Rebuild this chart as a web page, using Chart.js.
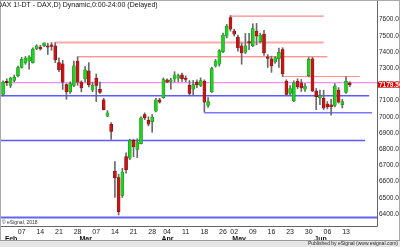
<!DOCTYPE html>
<html>
<head>
<meta charset="utf-8">
<script src="https://cdn.jsdelivr.net/npm/chart.js@4.4.1/dist/chart.umd.min.js"></script>
<style>
  html, body { margin: 0; padding: 0; background: #fff; }
  #contenedor { width: 400px; height: 247px; }
</style>
</head>
<body>
<div id="contenedor"><canvas id="grafico" width="400" height="247"></canvas></div>
<script>
// Fechas de cada vela (2018, mes-dia)
const fechas = ['01-31',
  '02-01','02-02','02-05','02-06','02-07','02-08','02-09','02-12','02-13','02-14','02-15','02-16','02-19','02-20','02-21','02-22','02-23','02-26','02-27','02-28',
  '03-01','03-02','03-05','03-06','03-07','03-08','03-09','03-12','03-13','03-14','03-15','03-16','03-19','03-20','03-21','03-22','03-23','03-26','03-27','03-28','03-29','03-30',
  '04-03','04-04','04-05','04-06','04-09','04-10','04-11','04-12','04-13','04-16','04-17','04-18','04-19','04-20','04-23','04-24','04-26','04-27','04-30',
  '05-02','05-03','05-04','05-07','05-08','05-09','05-10','05-11','05-14','05-15','05-16','05-17','05-18','05-21','05-22','05-23','05-24','05-25','05-28','05-29','05-30','05-31',
  '06-01','06-04','06-05','06-06','06-07','06-08','06-11','06-12','06-13','06-14']

// Valores OHLC
const apertura = [7138,7219,7194,7224,7254,7304,7334,7344,7334,7418,7430,7438,7438,7444,7438,7334,7326,7198,7154,7194,
  7344,7214,7234,7284,7164,7238,7170,7104,7004,6954,6664,6624,6514,6754,6744,6854,6798,6834,7014,6978,
  6970,7034,7104,7118,7228,7218,7234,7238,7258,7238,7194,7170,7214,7194,7218,7070,7154,7314,7324,7402,
  7498,7612,7530,7490,7438,7398,7464,7438,7528,7464,7510,7370,7358,7338,7358,7414,7218,7144,7098,7218,
  7210,7170,7254,7358,7158,7118,7114,7078,7074,7070,7164,7074,7150,7210]
const maximo = [7222,7234,7244,7258,7312,7366,7372,7378,7426,7444,7441,7458,7454,7458,7458,7364,7348,7204,7216,7344,
  7370,7222,7310,7334,7214,7264,7214,7114,7038,6964,6724,6646,6682,6778,6862,6862,6864,7000,7024,7000,
  7014,7114,7114,7240,7234,7238,7278,7264,7270,7252,7224,7224,7228,7240,7228,7118,7306,7354,7414,7516,
  7570,7624,7540,7504,7456,7514,7514,7574,7576,7516,7534,7384,7374,7372,7424,7426,7228,7192,7222,7234,
  7230,7204,7366,7366,7174,7164,7164,7094,7108,7204,7180,7108,7248,7216]
const minimo = [7129,7192,7180,7216,7246,7300,7324,7294,7330,7414,7411,7432,7384,7410,7334,7278,7168,7108,7144,7186,
  7194,7154,7214,7184,7154,7094,7144,7042,7000,6860,6502,6394,6502,6652,6736,6754,6748,6832,6982,6944,
  6904,7030,7084,7114,7210,7170,7214,7216,7218,7216,7130,7134,7180,7186,7028,7058,7150,7306,7312,7396,
  7486,7528,7498,7404,7324,7390,7414,7432,7444,7456,7378,7304,7274,7330,7304,7248,7130,7132,7093,7174,
  7156,7156,7246,7156,7044,7074,7044,7048,7010,7060,7084,7054,7144,7186]
const cierre = [7214,7210,7238,7244,7304,7354,7362,7370,7418,7438,7418,7454,7430,7434,7350,7290,7214,7154,7204,7314,
  7214,7178,7290,7198,7194,7194,7150,7044,7024,6910,6624,6414,6658,6674,6854,6814,6844,6994,6994,6954,
  6998,7104,7090,7230,7214,7228,7258,7254,7234,7230,7144,7198,7198,7224,7090,7094,7298,7344,7408,7504,
  7558,7540,7510,7424,7394,7438,7454,7544,7498,7504,7394,7360,7314,7364,7398,7264,7138,7174,7210,7184,
  7178,7190,7354,7158,7124,7130,7054,7062,7060,7190,7090,7094,7218,7198]

// Niveles horizontales dibujados sobre el grafico (precio, vela inicial, vela final)
const niveles = [7621, 7458, 7370, 7248, 7210, 7130, 7024, 6854, 6379]
const nivelDesde = [61, 14, 20, 75, -2, -2, 54, -2, -2]
const nivelHasta = [86, 86, 87, 95.7, 102, 98.2, 99, 97.1, 102]

// Etiquetas de los ejes
const diasEtiqueta = ['02-07','02-14','02-21','02-28','03-07','03-14','03-21','03-28','04-04','04-11','04-18','04-26','05-02','05-09','05-16','05-23','05-30','06-06','06-13']
const meses = ['Feb', 'Mar', 'Apr', 'May', 'Jun']
const inicioMes = ['02-01', '03-01', '04-03', '05-02', '06-01']
const ultimoPrecio = '7179.50'
const titulo = 'DAX 1!-DT - DAX,D) Dynamic,0:00-24:00 (Delayed)'

// estilos de cada nivel
const coloresNivel = ['#ff6a6a', 'rgba(255,110,110,0.6)', '#ff6a6a', '#ff8a8a', '#f070f0', '#5a5aff', '#7878ff', '#5a5aff', '#6464f4']
const anchosNivel = [1, 2, 1, 1, 1, 1.5, 1.5, 1.5, 2]

const verde = '#22d022'
const rojo = '#c81414'
const fuente = 'Liberation Sans'

const subida = cierre.map((c, i) => c >= apertura[i])

const mechas = fechas.map((f, i) => ({ x: i, y: [minimo[i], maximo[i]] }))
const cuerpos = fechas.map((f, i) => ({ x: i, y: [apertura[i], cierre[i]] }))

// los niveles se trazan con las escalas del grafico
const lineasNivel = {
  id: 'lineasNivel',
  beforeDatasetsDraw(chart) {
    const { ctx, chartArea: a, scales: { x, y } } = chart
    ctx.save()
    ctx.beginPath()
    ctx.rect(a.left, a.top, a.right - a.left, a.bottom - a.top)
    ctx.clip()
    niveles.forEach((n, k) => {
      const py = y.getPixelForValue(n)
      ctx.strokeStyle = coloresNivel[k]
      ctx.lineWidth = anchosNivel[k]
      ctx.beginPath()
      ctx.moveTo(x.getPixelForValue(nivelDesde[k]), py)
      ctx.lineTo(x.getPixelForValue(nivelHasta[k]), py)
      ctx.stroke()
    })
    ctx.restore()
  }
}

const decorado = {
  id: 'decorado',
  beforeDraw(chart) {
    const ctx = chart.ctx
    ctx.save()
    ctx.fillStyle = '#fff'
    ctx.fillRect(0, 0, chart.width, chart.height)
    ctx.restore()
  },
  afterDraw(chart) {
    const { ctx, chartArea: a, scales } = chart
    ctx.save()
    // marco del area de trazado
    ctx.strokeStyle = '#666'
    ctx.lineWidth = 1
    ctx.beginPath()
    ctx.moveTo(a.right + 0.5, 0)
    ctx.lineTo(a.right + 0.5, a.bottom + 0.5)
    ctx.lineTo(0, a.bottom + 0.5)
    ctx.stroke()
    ctx.strokeStyle = '#aaa'
    ctx.strokeRect(0.5, 0.5, chart.width - 1, chart.height - 1)

    // titulo
    ctx.fillStyle = '#111'
    ctx.font = '7px "' + fuente + '"'
    ctx.textBaseline = 'middle'
    ctx.textAlign = 'left'
    ctx.fillText(titulo, -3, 5)

    // copyright
    ctx.font = '5px "' + fuente + '"'
    ctx.fillStyle = '#333'
    ctx.fillText('\u00a9 eSignal, 2018', 2, a.bottom - 3.5)

    // pie
    const altoPie = 6
    ctx.fillStyle = '#e6e6e6'
    ctx.fillRect(0, chart.height - altoPie, chart.width, altoPie)
    ctx.strokeStyle = '#999'
    ctx.beginPath()
    ctx.moveTo(0, chart.height - altoPie - 0.5)
    ctx.lineTo(chart.width, chart.height - altoPie - 0.5)
    ctx.stroke()
    ctx.fillStyle = '#222'
    ctx.font = '5px "' + fuente + '"'
    ctx.textAlign = 'right'
    ctx.fillText('Published by eSignal (www.esignal.com)', chart.width - 2, chart.height - altoPie / 2)

    // caja del ultimo precio
    const yp = scales.y.getPixelForValue(cierre[cierre.length - 1])
    ctx.fillStyle = '#e00000'
    ctx.fillRect(a.right + 1, yp - 3, chart.width - a.right - 1, 6)
    ctx.fillStyle = '#fff'
    ctx.font = 'bold 6.5px "' + fuente + '"'
    ctx.textAlign = 'left'
    ctx.fillText(ultimoPrecio, a.right + 2, yp + 0.3)
    ctx.restore()
  }
}

const config = {
  type: 'bar',
  data: {
    datasets: [
      {
        label: 'cuerpos',
        data: cuerpos,
        backgroundColor: subida.map(s => s ? verde : rojo),
        borderColor: subida.map(s => s ? '#118811' : '#7a0a0a'),
        borderWidth: 0.5,
        borderSkipped: false,
        barThickness: 3,
        minBarLength: 1,
        grouped: false,
        order: 1
      },
      {
        label: 'mechas',
        data: mechas,
        backgroundColor: '#6a6a6a',
        barThickness: 1,
        grouped: false,
        order: 2
      }
    ]
  },
  options: {
    responsive: false,
    animation: false,
    layout: { padding: { left: 0, right: 0, top: 0, bottom: 6 } },
    plugins: { legend: { display: false }, tooltip: { enabled: false }, title: { display: false } },
    scales: {
      x: {
        type: 'linear',
        position: 'bottom',
        min: -0.82,
        max: 100.31,
        offset: false,
        weight: 0,
        grid: { display: false, drawTicks: false },
        border: { display: false },
        afterFit(s) { s.height = 9 },
        afterBuildTicks(s) {
          s.ticks = diasEtiqueta.map(d => ({ value: fechas.indexOf(d) }))
        },
        ticks: {
          autoSkip: false,
          maxRotation: 0,
          padding: 1.5,
          color: '#222',
          font: { family: fuente, size: 7 },
          callback: (v) => fechas[v] ? fechas[v].slice(3) : ''
        }
      },
      x2: {
        type: 'linear',
        position: 'bottom',
        min: -0.82,
        max: 100.31,
        offset: false,
        weight: 1,
        grid: { display: false, drawTicks: false },
        border: { display: false },
        afterFit(s) { s.height = 6 },
        afterBuildTicks(s) {
          s.ticks = inicioMes.map(d => ({ value: fechas.indexOf(d) - 0.5 }))
        },
        ticks: {
          autoSkip: false,
          maxRotation: 0,
          padding: 0,
          align: 'start',
          color: '#111',
          font: { family: fuente, size: 7, weight: 'bold' },
          callback: (v, i) => meses[i]
        }
      },
      y: {
        position: 'right',
        min: 6326,
        max: 7684,
        grid: { display: false, drawTicks: false },
        border: { display: false },
        afterFit(s) { s.width = 23 },
        ticks: {
          stepSize: 100,
          includeBounds: false,
          autoSkip: false,
          padding: 2,
          color: '#222',
          font: { family: fuente, size: 6.5 },
          callback: v => v.toFixed(2)
        }
      }
    }
  },
  plugins: [lineasNivel, decorado]
}

const grafico = new Chart(document.getElementById('grafico'), config)
</script>
</body>
</html>
